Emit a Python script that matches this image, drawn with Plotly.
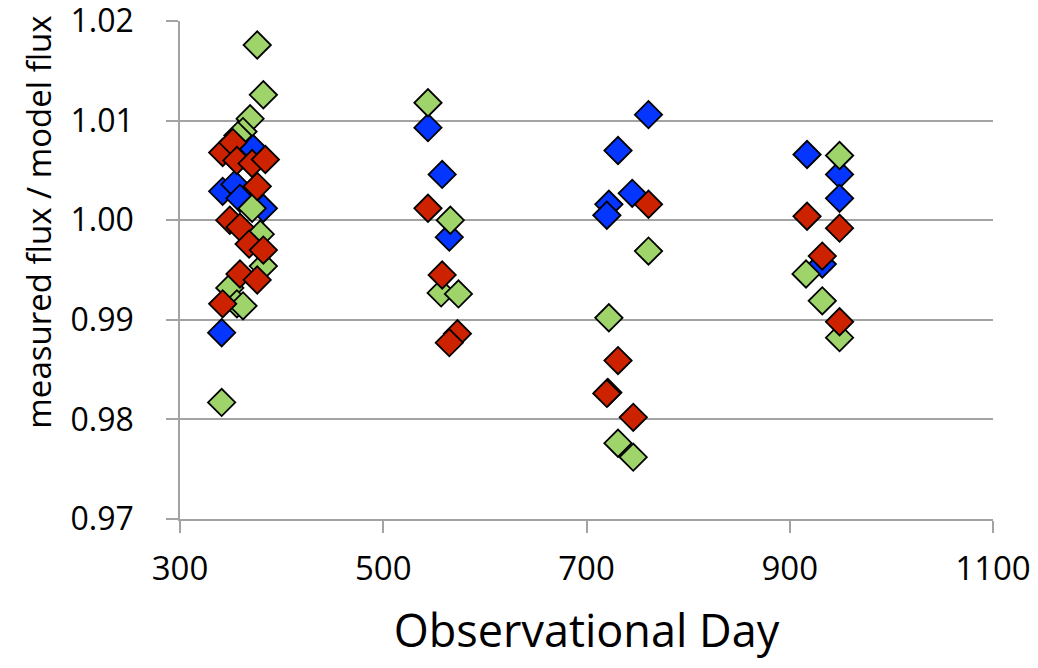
import plotly.graph_objects as go

# Blue series
blue_day = [370, 342, 354, 359, 382, 341,
            544, 558, 565,
            761, 731, 745, 722, 720,
            917, 949, 949, 932]
blue_flux = [1.0074, 1.0029, 1.0036, 1.0022, 1.0012, 0.9887,
             1.0093, 1.0046, 0.9983,
             1.0106, 1.0070, 1.0027, 1.0016, 1.0005,
             1.0066, 1.0046, 1.0022, 0.9956]

# Green series
green_day = [376, 382, 369, 362, 357, 371, 379, 382, 349, 356, 362, 341,
             544, 566, 557, 574,
             761, 722, 731, 746,
             949, 916, 932, 949]
green_flux = [1.0176, 1.0126, 1.0102, 1.0089, 1.0085, 1.0012, 0.9986, 0.9954, 0.9932, 0.9916, 0.9914, 0.9817,
              1.0118, 1.0000, 0.9927, 0.9926,
              0.9969, 0.9902, 0.9776, 0.9762,
              1.0065, 0.9946, 0.9919, 0.9882]

# Red series
red_day = [342, 352, 356, 371, 384, 376, 349, 359, 368, 382, 359, 376, 342,
           544, 558, 573, 565,
           761, 731, 721, 720, 746,
           917, 949, 932, 949]
red_flux = [1.0068, 1.0078, 1.0060, 1.0057, 1.0061, 1.0034, 1.0000, 0.9993, 0.9976, 0.9970, 0.9946, 0.9940, 0.9916,
            1.0012, 0.9945, 0.9886, 0.9877,
            1.0016, 0.9859, 0.9827, 0.9826, 0.9802,
            1.0004, 0.9992, 0.9964, 0.9898]

x_ticks = [300, 500, 700, 900, 1100]
y_ticks = [0.97, 0.98, 0.99, 1.00, 1.01, 1.02]

FONT = "Open Sans"
GRAY = "#A3A3A3"

fig = go.Figure()
for xs, ys, col in [(blue_day, blue_flux, "#0536FF"),
                    (green_day, green_flux, "#9FD46B"),
                    (red_day, red_flux, "#CC2200")]:
    fig.add_trace(go.Scatter(
        x=xs, y=ys, mode="markers",
        marker=dict(symbol="diamond", size=21, color=col,
                    line=dict(color="black", width=1.8)),
        showlegend=False, cliponaxis=False))

fig.update_layout(
    width=1028, height=652,
    margin=dict(l=172, r=43, t=13, b=141),
    paper_bgcolor="white", plot_bgcolor="white",
    font=dict(family=FONT, color="black"),
    annotations=[dict(
        text="measured flux / model flux", textangle=-90,
        xref="paper", yref="paper", x=0, y=0.595,
        xanchor="center", yanchor="middle", xshift=-141,
        showarrow=False, font=dict(size=33, family=FONT, color="black"))],
)
fig.update_xaxes(
    range=[300, 1100], tickvals=x_ticks, ticktext=[str(v) for v in x_ticks],
    showgrid=False, zeroline=False, automargin=False,
    showline=True, linecolor=GRAY, linewidth=1.5,
    ticks="outside", ticklen=12, tickcolor=GRAY, tickwidth=1.5,
    tickfont=dict(size=33, family=FONT), ticklabelstandoff=8,
    ticklabeloverflow="allow",
    title=dict(text="Observational Day", font=dict(size=45, family=FONT), standoff=40),
)
fig.update_yaxes(
    range=[0.96999, 1.02001], tickvals=y_ticks, ticktext=["%.2f" % v for v in y_ticks],
    showgrid=True, gridcolor=GRAY, gridwidth=1.5, zeroline=False, automargin=False,
    showline=True, linecolor=GRAY, linewidth=1.5,
    ticks="outside", ticklen=12, tickcolor=GRAY, tickwidth=1.5,
    tickfont=dict(size=32, family=FONT), ticklabelstandoff=26,
    ticklabeloverflow="allow",
)

fig.write_html("out.html")
